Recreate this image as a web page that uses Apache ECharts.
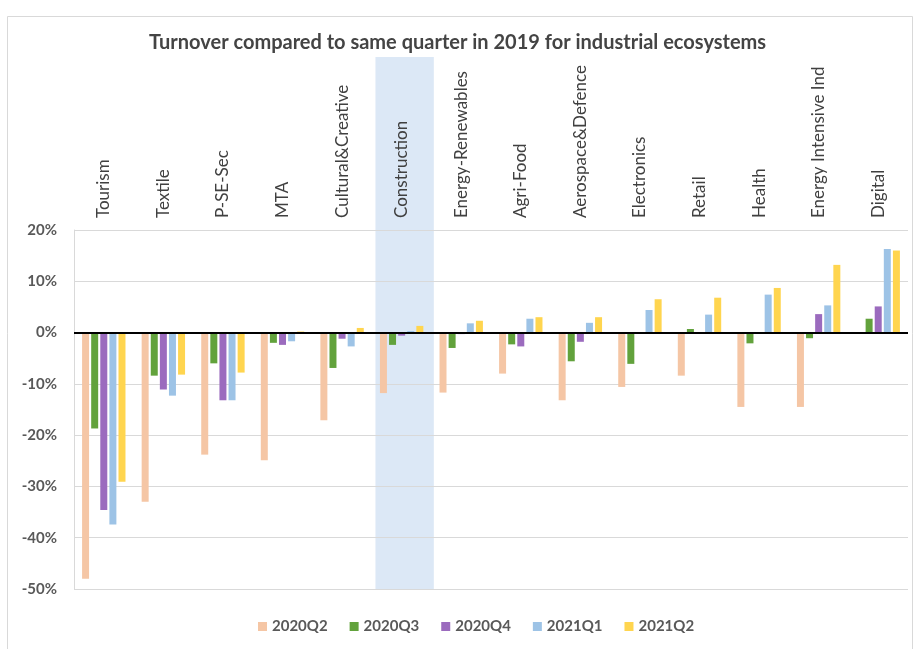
<!DOCTYPE html>
<html>
<head>
<meta charset="utf-8">
<title>Turnover compared to same quarter in 2019</title>
<script src="https://cdn.jsdelivr.net/npm/echarts@6/dist/echarts.min.js"></script>
<style>
  html, body { margin: 0; padding: 0; background: #fff; }
  #chart { width: 915px; height: 649px; }
</style>
</head>
<body>
<div id="chart"></div>
<script>
// ecosystems, in the order of the chart
const categories = [
  'Tourism', 'Textile', 'P-SE-Sec', 'MTA', 'Cultural&Creative', 'Construction',
  'Energy-Renewables', 'Agri-Food', 'Aerospace&Defence', 'Electronics',
  'Retail', 'Health', 'Energy Intensive Ind', 'Digital'
];

// % change vs same quarter of 2019
const q2020Q2 = [-48, -33, -23.8, -24.9, -17.1, -11.8, -11.7, -8.0, -13.2, -10.6, -8.4, -14.5, -14.5, 0];
const q2020Q3 = [-18.7, -8.4, -6.0, -2.0, -6.9, -2.4, -3.0, -2.3, -5.6, -6.1, 0.7, -2.1, -1.1, 2.7];
const q2020Q4 = [-34.6, -11.1, -13.2, -2.4, -1.2, -0.6, -0.3, -2.7, -1.8, 0.1, 0, 0, 3.6, 5.1];
const q2021Q1 = [-37.4, -12.3, -13.2, -1.7, -2.7, 0.3, 1.8, 2.7, 1.9, 4.4, 3.5, 7.4, 5.3, 16.3];
const q2021Q2 = [-29.1, -8.2, -7.8, 0.2, 0.9, 1.3, 2.3, 3.0, 3.0, 6.5, 6.8, 8.7, 13.2, 16.0];

const seriesNames = ['2020Q2', '2020Q3', '2020Q4', '2021Q1', '2021Q2'];
const seriesColors = ['#F5C6A5', '#62A23C', '#9B6BBE', '#9DC3E6', '#FFD54F'];
const yTicks = { min: -50, max: 20, step: 10 };

// shaded column behind Construction
const highlighted = 'Construction';

const font = 'Lato, "Noto Sans", sans-serif';
const chart = echarts.init(document.getElementById('chart'));

const values = [q2020Q2, q2020Q3, q2020Q4, q2021Q1, q2021Q2];
const barSeries = values.map((arr, i) => ({
  name: seriesNames[i],
  type: 'bar',
  xAxisIndex: 0,
  yAxisIndex: 0,
  data: arr,
  barWidth: 7,
  barGap: '30%',
  itemStyle: { color: seriesColors[i] },
  z: 3
}));

// zero line
barSeries[0].markLine = {
  silent: true,
  symbol: ['none', 'none'],
  label: { show: false },
  lineStyle: { color: '#000', width: 2, type: 'solid' },
  data: [{ yAxis: 0 }],
  z: 5
};

chart.setOption({
  animation: false,
  backgroundColor: '#fff',
  title: {
    text: 'Turnover compared to same quarter in 2019 for industrial ecosystems',
    left: 'center',
    top: 28,
    textStyle: { fontFamily: font, fontSize: 20, fontWeight: 'bold', color: '#444' }
  },
  graphic: [{
    type: 'rect',
    shape: { x: 7.5, y: 16.5, width: 905, height: 660 },
    style: { fill: 'none', stroke: '#d9d9d9', lineWidth: 1 },
    silent: true,
    z: -10
  }],
  legend: {
    data: seriesNames,
    bottom: 10,
    left: 253,
    icon: 'rect',
    itemWidth: 9,
    itemHeight: 9,
    itemGap: 22,
    textStyle: { fontFamily: font, fontSize: 15, fontWeight: 'bold', color: '#595959' }
  },
  grid: [
    { left: 74, right: 7, top: 230, bottom: 60, containLabel: false },
    { left: 77, right: 4, top: 57, bottom: 59, containLabel: false }
  ],
  xAxis: [{
    type: 'category',
    gridIndex: 0,
    data: categories,
    position: 'top',
    axisLine: { show: false },
    axisTick: { show: false },
    axisLabel: {
      rotate: 90,
      margin: 12,
      interval: 0,
      fontFamily: font,
      fontSize: 17,
      color: '#404040'
    }
  }, {
    type: 'category',
    gridIndex: 1,
    data: categories,
    show: false
  }],
  yAxis: [{
    type: 'value',
    gridIndex: 0,
    min: yTicks.min,
    max: yTicks.max,
    interval: yTicks.step,
    axisLine: { show: true, lineStyle: { color: '#d9d9d9', width: 1 } },
    axisTick: { show: false },
    splitLine: { lineStyle: { color: '#d9d9d9', width: 1 } },
    axisLabel: {
      margin: 17,
      fontFamily: font,
      fontSize: 15,
      fontWeight: 'bold',
      color: '#595959',
      formatter: (v) => v + '%'
    }
  }, {
    type: 'value',
    gridIndex: 1,
    min: 0,
    max: 1,
    show: false
  }],
  series: [{
    name: 'highlight',
    type: 'bar',
    xAxisIndex: 1,
    yAxisIndex: 1,
    silent: true,
    barWidth: '98%',
    data: categories.map((c) => (c === highlighted ? 1 : 0)),
    itemStyle: { color: '#DCE8F6' },
    z: -1
  }].concat(barSeries)
});
</script>
</body>
</html>
